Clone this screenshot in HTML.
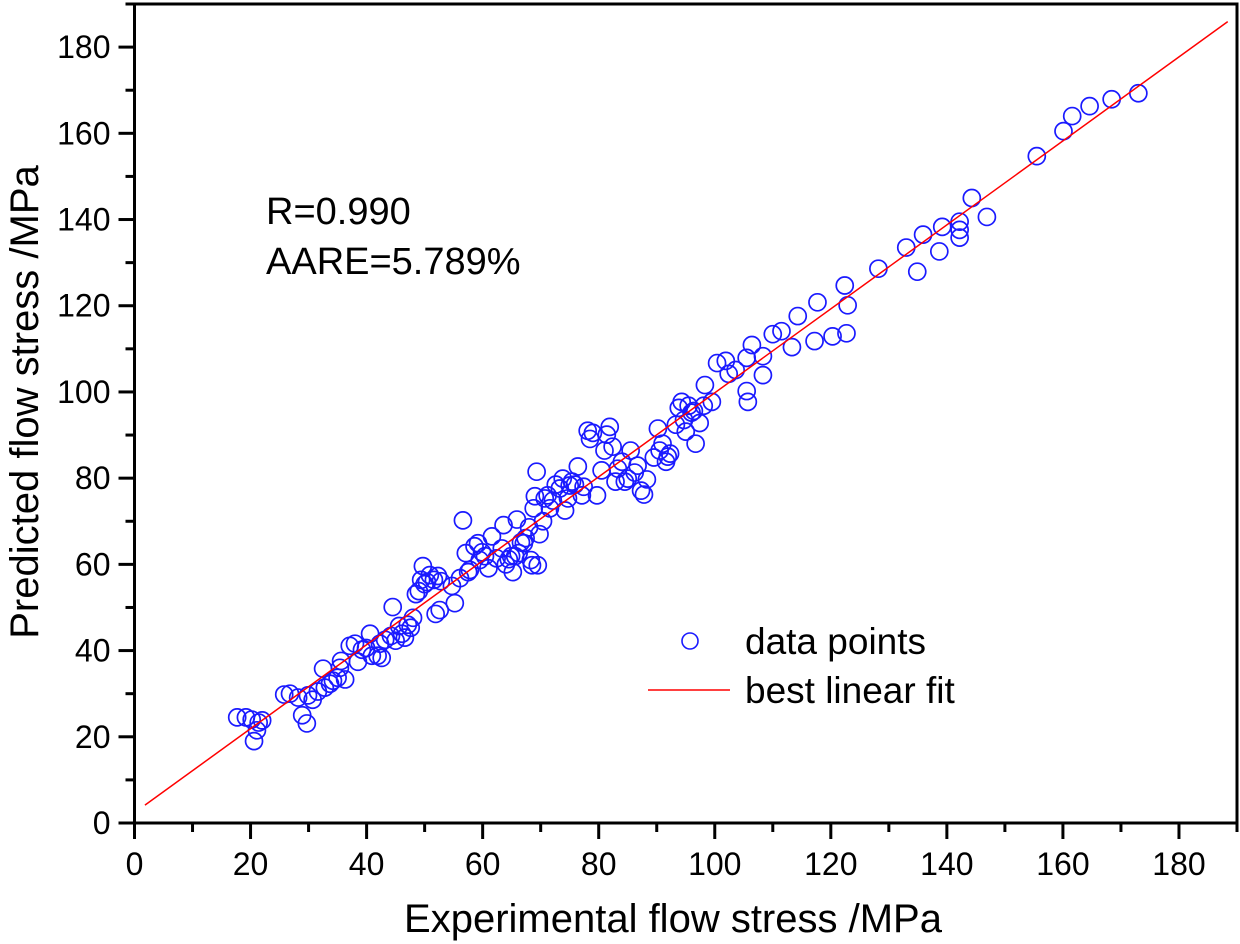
<!DOCTYPE html>
<html><head><meta charset="utf-8"><style>
html,body{margin:0;padding:0;background:#fff;}
svg{display:block;font-family:"Liberation Sans",Arial,sans-serif;}
</style></head><body>
<svg id="chart" width="1240" height="944" viewBox="0 0 1240 944" xmlns="http://www.w3.org/2000/svg">
<g id="marks"></g>
<g id="axes"></g>
<text x="266" y="224" font-size="38" fill="#000">R=0.990</text>
<text x="266" y="274" font-size="38" fill="#000">AARE=5.789%</text>
<g>
<circle cx="690" cy="641" r="8" fill="none" stroke="#1a1aff" stroke-width="1.6"/>
<text x="745" y="654" font-size="37">data points</text>
<line x1="648" y1="690" x2="730" y2="690" stroke="#ff0000" stroke-width="1.5"/>
<text x="745" y="703" font-size="37">best linear fit</text>
</g>
<text x="673" y="932" font-size="40" text-anchor="middle">Experimental flow stress /MPa</text>
<text transform="translate(38,402) rotate(-90)" font-size="40" text-anchor="middle">Predicted flow stress /MPa</text>
</svg>
<script>
const xTicks=[0,20,40,60,80,100,120,140,160,180];
const yTicks=[0,20,40,60,80,100,120,140,160,180];
const fitSlope=0.974;
const fitIntercept=2.4;
const fitRange=[1.8,188.4];
const expX=[17.7,19.2,20.2,20.6,21.1,21.4,22,25.8,26.8,28.2,28.9,29.7,29.9,30.7,31.6,32.5,32.8,33.7,34.2,35,35.4,35.6,36.3,37.1,38,38.5,39.2,39.9,40.6,40.9,41.9,42.3,42.6,43.2,44.2,44.5,45,45.6,46.1,46.6,47.1,47.6,48,48.5,49,49.4,49.7,50,50.4,50.9,51.6,51.9,52.3,52.6,52.8,54.7,55.2,56.1,56.6,57.1,57.5,57.8,58.6,59.2,59.5,59.9,60.4,61,61.6,62.4,63.3,63.6,64,64.5,64.9,65.2,65.6,65.9,66.2,66.6,67.1,67.4,68,68.3,68.5,68.8,69,69.3,69.5,69.8,70.4,70.7,71.2,71.6,72.1,72.6,73.3,73.8,74.2,74.7,75,75.4,75.9,76.4,77.1,77.4,78.1,78.5,79,79.7,80.5,81,81.4,81.9,82.4,82.9,83.3,84,84.5,85,85.5,86.2,86.7,87.3,87.8,88.3,89.5,90.2,90.5,91,91.6,91.9,92.3,93.3,93.8,94.3,94.7,95,95.5,96,96.4,96.7,97.4,98.1,98.3,99.5,100.4,101.9,102.4,103.6,105.7,105.5,108.3,108.3,105.5,106.4,110,111.5,113.3,114.3,117.7,117.2,120.3,122.7,122.9,122.4,128.2,133,134.9,135.9,138.7,139.2,142.2,142.2,142.2,144.3,146.9,155.5,160.1,161.6,164.6,168.4,173];
const predY=[24.5,24.5,24,19,21.5,23.3,23.8,29.8,30,29.1,25,23.1,29.6,28.6,30.5,35.8,31.4,32.3,33,33.7,36,37.6,33.3,41.1,41.6,37.4,40.2,40.6,43.9,38.8,38.8,41.6,38.3,42.5,43.4,50.1,42.3,45.7,43.9,43,46,45.3,47.6,53.1,53.8,56.4,59.6,55.4,55.9,57.5,56.4,48.5,57.3,49.4,56.1,55,51,56.8,70.2,62.6,58.2,58.7,64.2,64.9,61,62.8,61.9,59.1,66.5,61.4,63.7,69.1,60,61.2,61.9,58.2,61.9,70.4,62.6,65.1,64.9,66.1,68.6,61,59.8,73,75.8,81.5,59.8,67,70,75.3,76,73,74.8,78.5,77.6,79.9,72.5,75.3,78.3,79.2,78.5,82.7,76,78,91,89.1,90.5,76,81.8,86.4,90.1,91.9,87.3,79.2,82.2,83.8,79.2,79.9,86.4,81.3,82.9,77.1,76.2,79.7,84.8,91.5,86.4,88,83.8,85,85.7,92.4,96.3,97.7,93.5,90.8,96.8,95.2,95.6,88,92.8,96.8,101.6,97.7,106.7,107.2,104.2,105.1,97.7,100.2,108.3,103.9,107.9,110.9,113.4,114.1,110.4,117.6,120.8,111.8,112.9,113.6,120.1,124.7,128.6,133.5,127.9,136.5,132.6,138.3,139.5,135.8,137.6,145,140.6,154.7,160.5,164,166.3,167.9,169.3];

const NS='http://www.w3.org/2000/svg';
const L=134.5,R=1237,T=4,B=823,XMAX=190,YMAX=190;
function sx(v){return L+(R-L)*v/XMAX;}
function sy(v){return B-(B-T)*v/YMAX;}
function mk(tag,attrs,parent){const e=document.createElementNS(NS,tag);for(const k in attrs)e.setAttribute(k,attrs[k]);parent.appendChild(e);return e;}
const marks=document.getElementById('marks');
const axes=document.getElementById('axes');
for(let i=0;i<expX.length;i++){
  const c=mk('circle',{cx:sx(expX[i]),cy:sy(predY[i]),r:8.5,fill:'none',stroke:'#1a1aff','stroke-width':1.7},marks);
  
  
}
const fl=mk('line',{x1:sx(fitRange[0]),y1:sy(fitIntercept+fitSlope*fitRange[0]),x2:sx(fitRange[1]),y2:sy(fitIntercept+fitSlope*fitRange[1]),stroke:'#ff0000','stroke-width':1.5},marks);


const fr=mk('rect',{x:L,y:T,width:R-L,height:B-T,fill:'none',stroke:'#000','stroke-width':3},axes);


for(const v of xTicks){
  const t=mk('line',{x1:sx(v),y1:B,x2:sx(v),y2:B+16,stroke:'#000','stroke-width':3},axes);
  
  
  const m=mk('line',{x1:sx(v+10),y1:B,x2:sx(v+10),y2:B+9,stroke:'#000','stroke-width':3},axes);
  
  
  const tx=mk('text',{x:sx(v),y:875,'font-size':32,'text-anchor':'middle'},axes);
  tx.textContent=v;
  
  
}
for(const v of yTicks){
  const t=mk('line',{x1:L,y1:sy(v),x2:L-16,y2:sy(v),stroke:'#000','stroke-width':3},axes);
  
  
  const m=mk('line',{x1:L,y1:sy(v+10),x2:L-9,y2:sy(v+10),stroke:'#000','stroke-width':3},axes);
  
  
  const tx=mk('text',{x:L-24,y:sy(v)+11,'font-size':32,'text-anchor':'end'},axes);
  tx.textContent=v;
  
  
}
</script>
</body></html>
